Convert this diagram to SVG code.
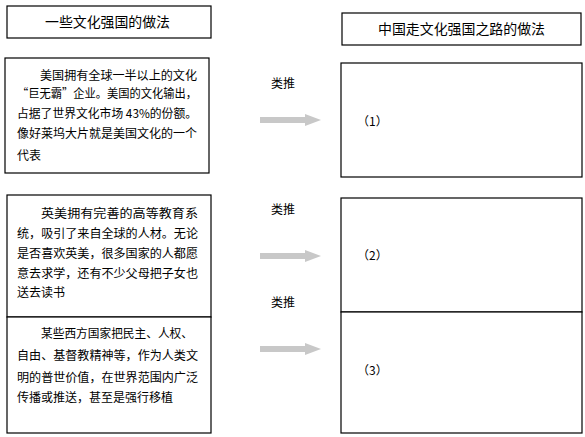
<svg xmlns="http://www.w3.org/2000/svg" width="585" height="437" viewBox="0 0 585 437">
<style>
.box{fill:#fff;stroke:#000;stroke-width:1.2}
.t{font-family:"Noto Sans CJK SC","Noto Sans CJK TC",sans-serif;font-size:12px;fill:#000}
.h{font-family:"Noto Sans CJK SC","Noto Sans CJK TC",sans-serif;font-size:14px;fill:#000}
.arr{fill:#c8c8c8}
</style>
<rect width="585" height="437" fill="#fff"/>
<g id="title-left">
<rect class="box" x="7" y="6" width="204" height="32"/>
<text class="h" x="45" y="27" textLength="125" lengthAdjust="spacingAndGlyphs">一些文化强国的做法</text>
</g>
<g id="title-right">
<rect class="box" x="342" y="13" width="239" height="32"/>
<text class="h" x="378" y="34" textLength="167" lengthAdjust="spacingAndGlyphs">中国走文化强国之路的做法</text>
</g>
<g id="left-1">
<rect class="box" x="5" y="58" width="204" height="115"/>
<text class="t" x="40" y="79.5" textLength="157" lengthAdjust="spacingAndGlyphs">美国拥有全球一半以上的文化</text>
<text class="t" x="17" y="98" textLength="180" lengthAdjust="spacingAndGlyphs">“巨无霸”企业。美国的文化输出，</text>
<text class="t" x="17" y="117.5" textLength="180" lengthAdjust="spacingAndGlyphs">占据了世界文化市场 43%的份额。</text>
<text class="t" x="17" y="137.5" textLength="180" lengthAdjust="spacingAndGlyphs">像好莱坞大片就是美国文化的一个</text>
<text class="t" x="17" y="160" textLength="24" lengthAdjust="spacingAndGlyphs">代表</text>
</g>
<g id="left-2">
<rect class="box" x="7" y="195" width="204" height="122"/>
<text class="t" x="41" y="217.5" textLength="157" lengthAdjust="spacingAndGlyphs">英美拥有完善的高等教育系</text>
<text class="t" x="17" y="237.5" textLength="181" lengthAdjust="spacingAndGlyphs">统，吸引了来自全球的人材。无论</text>
<text class="t" x="17" y="257.5" textLength="181" lengthAdjust="spacingAndGlyphs">是否喜欢英美，很多国家的人都愿</text>
<text class="t" x="17" y="277.5" textLength="181" lengthAdjust="spacingAndGlyphs">意去求学，还有不少父母把子女也</text>
<text class="t" x="17" y="296.5" textLength="48" lengthAdjust="spacingAndGlyphs">送去读书</text>
</g>
<g id="left-3">
<rect class="box" x="7" y="317" width="204" height="116"/>
<text class="t" x="41" y="337.5" textLength="152" lengthAdjust="spacingAndGlyphs">某些西方国家把民主、人权、</text>
<text class="t" x="17" y="359.5" textLength="181" lengthAdjust="spacingAndGlyphs">自由、基督教精神等，作为人类文</text>
<text class="t" x="17" y="381.5" textLength="181" lengthAdjust="spacingAndGlyphs">明的普世价值，在世界范围内广泛</text>
<text class="t" x="17" y="401.5" textLength="156" lengthAdjust="spacingAndGlyphs">传播或推送，甚至是强行移植</text>
</g>
<g id="right-1">
<rect class="box" x="341" y="63" width="241" height="114"/>
<text class="t" x="357" y="125.5">（1）</text>
</g>
<g id="right-2">
<rect class="box" x="341" y="198" width="241" height="114"/>
<text class="t" x="357" y="259.5">（2）</text>
</g>
<g id="right-3">
<rect class="box" x="341" y="312" width="241" height="121"/>
<text class="t" x="357" y="374.5">（3）</text>
</g>
<g id="connectors">
<polygon class="arr" points="260,117 305,117 305,114 321,120 305,126 305,123 260,123"/>
<polygon class="arr" points="260,253 305,253 305,250 321,256 305,262 305,259 260,259"/>
<polygon class="arr" points="260,346 305,346 305,343 321,349 305,355 305,352 260,352"/>
<text class="t" x="271" y="88">类推</text>
<text class="t" x="271" y="214">类推</text>
<text class="t" x="271" y="307">类推</text>
</g>
</svg>
